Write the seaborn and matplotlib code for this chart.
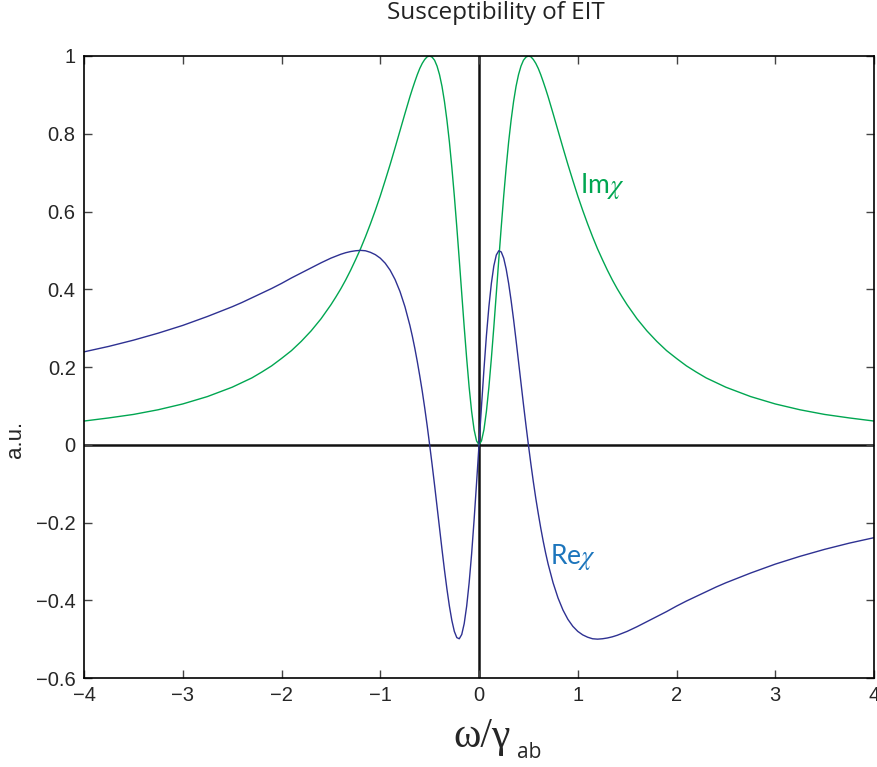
import pandas as pd
import matplotlib
matplotlib.use("Agg")
import matplotlib.pyplot as plt
import seaborn as sns

# detuning (omega / gamma_ab)
omega = [-4.0, -3.75, -3.5, -3.25, -3.0, -2.75, -2.5, -2.4, -2.3, -2.2, -2.1, -2.0, -1.9, -1.8, -1.7, -1.6,
         -1.5, -1.45, -1.4, -1.35, -1.3, -1.25, -1.2, -1.15, -1.1, -1.05, -1.0, -0.95, -0.9, -0.85, -0.8, -0.75,
         -0.7, -0.675, -0.65, -0.625, -0.6, -0.575, -0.55, -0.525, -0.5, -0.475, -0.45, -0.425, -0.4, -0.375,
         -0.35, -0.325, -0.3, -0.275, -0.25, -0.225, -0.2, -0.175, -0.15, -0.125, -0.1, -0.075, -0.05, -0.025,
         0.0,
         0.025, 0.05, 0.075, 0.1, 0.125, 0.15, 0.175, 0.2, 0.225, 0.25, 0.275, 0.3, 0.325, 0.35, 0.375,
         0.4, 0.425, 0.45, 0.475, 0.5, 0.525, 0.55, 0.575, 0.6, 0.625, 0.65, 0.675, 0.7, 0.75, 0.8,
         0.85, 0.9, 0.95, 1.0, 1.05, 1.1, 1.15, 1.2, 1.25, 1.3, 1.35, 1.4, 1.45, 1.5, 1.6, 1.7, 1.8, 1.9,
         2.0, 2.1, 2.2, 2.3, 2.4, 2.5, 2.75, 3.0, 3.25, 3.5, 3.75, 4.0]

im_chi = [0.061, 0.069, 0.078, 0.090, 0.105, 0.124, 0.148, 0.160, 0.172, 0.187, 0.203, 0.222, 0.242, 0.266, 0.293, 0.324,
          0.360, 0.380, 0.401, 0.424, 0.449, 0.476, 0.504, 0.535, 0.568, 0.603, 0.640, 0.680, 0.721, 0.764, 0.808, 0.852,
          0.895, 0.915, 0.934, 0.952, 0.968, 0.981, 0.991, 0.998, 1.000, 0.997, 0.989, 0.974, 0.952, 0.922,
          0.883, 0.835, 0.779, 0.713, 0.640, 0.560, 0.476, 0.389, 0.303, 0.222, 0.148, 0.086, 0.039, 0.010,
          0.000,
          0.010, 0.039, 0.086, 0.148, 0.222, 0.303, 0.389, 0.476, 0.560, 0.640, 0.713, 0.779, 0.835, 0.883, 0.922,
          0.952, 0.974, 0.989, 0.997, 1.000, 0.998, 0.991, 0.981, 0.968, 0.952, 0.934, 0.915, 0.895, 0.852, 0.808,
          0.764, 0.721, 0.680, 0.640, 0.603, 0.568, 0.535, 0.504, 0.476, 0.449, 0.424, 0.401, 0.380, 0.360, 0.324, 0.293, 0.266, 0.242,
          0.222, 0.203, 0.187, 0.172, 0.160, 0.148, 0.124, 0.105, 0.090, 0.078, 0.069, 0.061]

re_chi = [0.239, 0.253, 0.269, 0.287, 0.307, 0.330, 0.355, 0.366, 0.378, 0.390, 0.402, 0.415, 0.429, 0.442, 0.455, 0.468,
          0.480, 0.485, 0.490, 0.494, 0.497, 0.499, 0.500, 0.499, 0.495, 0.489, 0.480, 0.467, 0.449, 0.425, 0.394, 0.355,
          0.307, 0.279, 0.248, 0.214, 0.177, 0.138, 0.095, 0.049, 0.000, -0.051, -0.104, -0.159, -0.214, -0.269,
          -0.322, -0.371, -0.415, -0.452, -0.480, -0.496, -0.499, -0.488, -0.460, -0.415, -0.355, -0.281, -0.194, -0.099,
          0.000,
          0.099, 0.194, 0.281, 0.355, 0.415, 0.460, 0.488, 0.499, 0.496, 0.480, 0.452, 0.415, 0.371, 0.322, 0.269,
          0.214, 0.159, 0.104, 0.051, 0.000, -0.049, -0.095, -0.138, -0.177, -0.214, -0.248, -0.279, -0.307, -0.355, -0.394,
          -0.425, -0.449, -0.467, -0.480, -0.489, -0.495, -0.499, -0.500, -0.499, -0.497, -0.494, -0.490, -0.485, -0.480, -0.468, -0.455, -0.442, -0.429,
          -0.415, -0.402, -0.390, -0.378, -0.366, -0.355, -0.330, -0.307, -0.287, -0.269, -0.253, -0.239]

x_ticks = [-4, -3, -2, -1, 0, 1, 2, 3, 4]
x_ticklabels = ["\u22124", "\u22123", "\u22122", "\u22121", "0", "1", "2", "3", "4"]
y_ticks = [-0.6, -0.4, -0.2, 0, 0.2, 0.4, 0.6, 0.8, 1]
y_ticklabels = ["\u22120.6", "\u22120.4", "\u22120.2", "0", "0.2", "0.4", "0.6", "0.8", "1"]

sns.set_style("ticks")
plt.rcParams["font.family"] = ["Liberation Sans", "DejaVu Sans"]
plt.rcParams["mathtext.fontset"] = "stix"

df = pd.DataFrame({"omega": omega, "Im": im_chi, "Re": re_chi})

fig = plt.figure(figsize=(8.77, 7.67), dpi=100)
ax = fig.add_axes([0.0958, 0.116, 0.9008, 0.811])

sns.lineplot(data=df, x="omega", y="Im", sort=False, estimator=None, color="#00a651", lw=1.0, ax=ax)
sns.lineplot(data=df, x="omega", y="Re", sort=False, estimator=None, color="#2e3192", lw=1.0, ax=ax)

ax.axhline(0, color="#111111", lw=1.8, zorder=0)
ax.axvline(0, color="#111111", lw=1.8, zorder=0)

ax.set_xlim(-4, 4)
ax.set_ylim(-0.6, 1)
ax.set_xticks(x_ticks)
ax.set_yticks(y_ticks)
ax.set_xticklabels(x_ticklabels)
ax.set_yticklabels(y_ticklabels)
ax.tick_params(direction="in", length=6, width=1, top=True, right=True,
               labelsize=14.5, pad=6, color="#444444")
for s in ax.spines.values():
    s.set_linewidth(1.2)
    s.set_color("black")

# axis labels and title placed like the original (MATLAB export)
ax.set_xlabel("")
ax.set_ylabel("a.u.", fontsize=16)
ax.yaxis.set_label_coords(-0.073, 0.383)
fig.text(453 / 877, 1 - 747 / 767, "\u03c9/\u03b3", fontsize=30, ha="left", va="baseline",
         family=["Liberation Serif", "DejaVu Serif"])
fig.text(517 / 877, 1 - 758 / 767, "ab", fontsize=15, ha="left", va="baseline",
         family=["Open Sans", "DejaVu Sans"])
ax.text(0.5215, 1.0595, "Susceptibility of EIT", transform=ax.transAxes, fontsize=17.5,
        ha="center", va="baseline", family=["Open Sans", "DejaVu Sans"], color="#222222")

ax.text(1.02, 0.648, r"Im$\chi$", color="#00a651", fontsize=19, va="baseline", ha="left",
        family=["Lato", "DejaVu Sans"])
ax.text(0.72, -0.306, r"Re$\chi$", color="#1c75bc", fontsize=19, va="baseline", ha="left",
        family=["Lato", "DejaVu Sans"])

fig.savefig("out.png", dpi=100)
